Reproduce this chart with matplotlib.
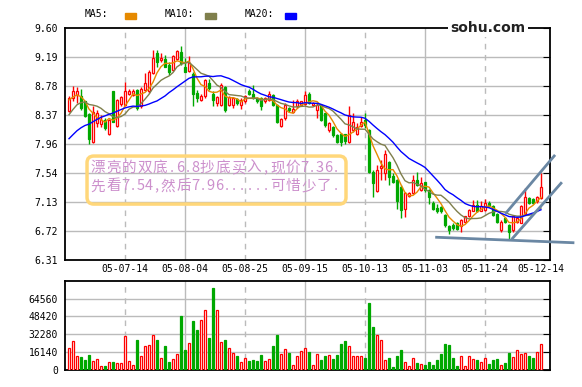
import numpy as np
import pandas as pd
import matplotlib
matplotlib.use("Agg")
import matplotlib.pyplot as plt
from matplotlib.patches import FancyBboxPatch, Rectangle

# date labels and the candle index they sit on
dates = ["05-07-14", "05-08-04", "05-08-25", "05-09-15", "05-10-13", "05-11-03", "05-11-24", "05-12-14"]
date_pos = [14, 29, 44, 59, 74, 89, 104, 118]

# daily prices
opens = [8.42, 8.60, 8.65, 8.63, 8.56, 8.38, 7.99, 8.25, 8.24, 8.30,
         8.09, 8.70, 8.21, 8.52, 8.51, 8.66, 8.65, 8.72, 8.49, 8.72,
         8.70, 8.96, 9.24, 9.14, 9.16, 9.08, 9.01, 9.16, 9.26, 9.05,
         8.99, 8.95, 8.68, 8.58, 8.63, 8.82, 8.67, 8.54, 8.51, 8.77,
         8.51, 8.51, 8.59, 8.51, 8.56, 8.71, 8.67, 8.60, 8.60, 8.56,
         8.58, 8.65, 8.51, 8.21, 8.32, 8.46, 8.41, 8.49, 8.51, 8.52,
         8.67, 8.51, 8.44, 8.51, 8.39, 8.15, 8.20, 8.08, 8.10, 8.09,
         7.99, 8.15, 8.10, 8.21, 8.30, 8.15, 7.56, 7.29, 7.61, 7.54,
         7.70, 7.50, 7.44, 7.35, 7.03, 7.22, 7.26, 7.44, 7.30, 7.41,
         7.30, 7.12, 7.05, 7.06, 6.95, 6.79, 6.81, 6.83, 6.79, 6.85,
         6.93, 7.01, 7.09, 7.01, 7.02, 7.12, 7.08, 6.96, 6.73, 6.90,
         6.81, 6.73, 6.85, 6.84, 6.96, 7.19, 7.17, 7.14, 7.19]
highs = [8.64, 8.78, 8.77, 8.73, 8.57, 8.40, 8.49, 8.44, 8.37, 8.32,
         8.31, 8.70, 8.59, 8.64, 8.83, 8.73, 8.73, 8.73, 8.77, 8.96,
         9.00, 9.29, 9.29, 9.25, 9.22, 9.12, 9.22, 9.29, 9.34, 9.18,
         9.20, 8.97, 8.72, 8.66, 8.87, 8.87, 8.70, 8.64, 8.82, 8.78,
         8.63, 8.62, 8.61, 8.60, 8.65, 8.74, 8.79, 8.62, 8.62, 8.62,
         8.70, 8.66, 8.52, 8.32, 8.53, 8.48, 8.58, 8.59, 8.57, 8.70,
         8.69, 8.55, 8.53, 8.52, 8.40, 8.26, 8.21, 8.10, 8.11, 8.10,
         8.49, 8.39, 8.25, 8.34, 8.39, 8.17, 7.58, 7.66, 7.73, 7.87,
         7.72, 7.54, 7.46, 7.37, 7.27, 7.27, 7.52, 7.56, 7.49, 7.42,
         7.31, 7.14, 7.11, 7.07, 6.96, 6.81, 6.83, 6.85, 6.89, 6.94,
         7.04, 7.16, 7.16, 7.14, 7.17, 7.14, 7.09, 6.98, 6.87, 6.92,
         6.82, 6.94, 6.92, 7.09, 7.33, 7.20, 7.19, 7.22, 7.54]
lows = [8.41, 8.56, 8.53, 8.44, 8.34, 7.96, 7.97, 8.20, 8.19, 8.15,
        8.08, 8.26, 8.19, 8.49, 8.49, 8.65, 8.63, 8.44, 8.46, 8.70,
        8.68, 8.95, 9.05, 9.12, 9.04, 8.94, 8.99, 9.14, 9.08, 8.97,
        8.97, 8.50, 8.55, 8.56, 8.60, 8.72, 8.49, 8.50, 8.49, 8.41,
        8.49, 8.46, 8.51, 8.45, 8.54, 8.65, 8.59, 8.54, 8.44, 8.53,
        8.56, 8.49, 8.25, 8.19, 8.30, 8.41, 8.40, 8.47, 8.49, 8.51,
        8.52, 8.49, 8.32, 8.28, 8.20, 8.13, 8.05, 7.97, 7.93, 7.96,
        7.97, 8.13, 8.08, 8.19, 8.18, 7.54, 7.20, 7.27, 7.44, 7.44,
        7.37, 7.40, 7.04, 6.90, 6.92, 7.20, 7.24, 7.36, 7.29, 7.28,
        7.11, 7.02, 6.98, 6.98, 6.78, 6.68, 6.74, 6.73, 6.71, 6.84,
        6.92, 7.00, 6.99, 7.00, 7.00, 7.06, 6.93, 6.83, 6.71, 6.84,
        6.60, 6.70, 6.84, 6.83, 6.95, 7.11, 7.11, 7.12, 7.17]
closes = [8.60, 8.70, 8.71, 8.46, 8.35, 8.03, 8.41, 8.40, 8.30, 8.18,
          8.30, 8.27, 8.58, 8.62, 8.71, 8.71, 8.71, 8.46, 8.73, 8.82,
          8.98, 9.17, 9.12, 9.17, 9.05, 8.98, 9.20, 9.27, 9.10, 8.98,
          9.10, 8.66, 8.60, 8.64, 8.86, 8.75, 8.58, 8.62, 8.79, 8.43,
          8.62, 8.60, 8.53, 8.58, 8.64, 8.66, 8.60, 8.56, 8.50, 8.60,
          8.67, 8.51, 8.26, 8.31, 8.51, 8.43, 8.45, 8.57, 8.56, 8.65,
          8.53, 8.53, 8.51, 8.30, 8.23, 8.25, 8.08, 7.99, 7.99, 8.00,
          8.37, 8.27, 8.20, 8.27, 8.22, 7.56, 7.40, 7.59, 7.64, 7.82,
          7.49, 7.42, 7.14, 7.02, 7.26, 7.26, 7.45, 7.37, 7.40, 7.30,
          7.20, 7.04, 7.00, 7.00, 6.81, 6.74, 6.76, 6.75, 6.88, 6.93,
          7.02, 7.09, 7.01, 7.08, 7.12, 7.08, 6.95, 6.85, 6.85, 6.85,
          6.71, 6.93, 6.90, 7.08, 7.20, 7.12, 7.12, 7.20, 7.35]
volumes = [19500, 26100, 12600, 11400, 9000, 13500, 8100, 9900, 3600, 3600,
           7200, 7200, 6300, 6000, 30600, 8100, 4500, 27000, 12600, 21600,
           22500, 31500, 27000, 10800, 21600, 7500, 9900, 14400, 48600, 18000,
           24300, 44100, 36000, 45000, 54000, 28800, 73800, 54000, 25200, 27000,
           19800, 15000, 12600, 7200, 10800, 8400, 9000, 8400, 13500, 8100,
           9900, 21600, 31500, 14400, 18600, 15300, 4500, 12600, 17100, 19800,
           16200, 4500, 14400, 9000, 12600, 13500, 9900, 13500, 23400, 26100,
           21600, 12600, 12600, 12600, 10800, 60300, 38700, 31500, 27000, 9000,
           10800, 2700, 12600, 18000, 7200, 3600, 10800, 6300, 5400, 4500,
           7200, 4500, 9000, 14400, 23400, 22500, 10800, 3600, 12600, 3600,
           12600, 9900, 9000, 7200, 10800, 5400, 9000, 9900, 4500, 6300,
           15300, 11700, 18000, 14400, 15300, 12600, 10800, 16200, 23400]
# closes before the first visible day, needed for the moving averages
pre_close = [7.55, 7.60, 7.62, 7.70, 7.65, 7.72, 7.75, 7.70, 7.78, 7.83,
             7.95, 8.05, 8.15, 8.25, 8.40, 8.50, 8.55, 8.60, 8.65]

# hand drawn trend lines: (index, price) end points
support_x = [91.9, 126.0]
support_y = [6.632, 6.555]
upper_x = [109.3, 121.3]
upper_y = [6.98, 7.785]
lower_x = [110.9, 123.0]
lower_y = [6.618, 7.398]

note = ["漂亮的双底.6.8抄底买入,现价7.36.", "先看7.54,然后7.96......可惜少了."]

price_ticks = np.linspace(6.31, 9.60, 9)
vol_ticks = [0, 16140, 32280, 48420, 64560]

# moving averages
all_close = pd.Series(pre_close + closes)
n0 = len(pre_close)
ma5 = all_close.rolling(5).mean().values[n0:]
ma10 = all_close.rolling(10).mean().values[n0:]
ma20 = all_close.rolling(20).mean().values[n0:]

RED = "#FF0000"
GREEN = "#00A800"
GRID = "#BBBBBB"
MA_COLORS = ["#E68A00", "#7F7F4C", "#0000FF"]
MONO = "DejaVu Sans Mono"
CJK = ["Noto Sans CJK SC", "DejaVu Sans"]

x = np.arange(len(closes))
o = np.array(opens)
c = np.array(closes)
up = c >= o
edge = np.where(up, RED, GREEN)
face = np.where(up, "white", GREEN)

fig = plt.figure(figsize=(5.82, 3.87), dpi=100)
ax = fig.add_axes([0.1117, 0.3282, 0.8333, 0.5995])
axv = fig.add_axes([0.1117, 0.0439, 0.8333, 0.2307])

for a in (ax, axv):
    a.set_xlim(-1, 120.25)
    for i, p in enumerate(date_pos[:-1]):
        a.axvline(p, color=GRID, lw=1, ls="-" if i % 2 else (0, (4, 4)), zorder=1)
    for s in a.spines.values():
        s.set_linewidth(1.3)
    a.tick_params(axis="y", left=False, right=True, direction="in", length=5,
                  labelsize=7, pad=5)
    a.tick_params(axis="x", length=0)

# candles
ax.vlines(x, lows, highs, colors=edge, lw=1, zorder=3)
ax.bar(x, np.maximum(np.abs(c - o), 0.008), bottom=np.minimum(o, c), width=0.62,
       color=face, edgecolor=edge, lw=0.9, zorder=4)
for ma, col in zip([ma5, ma10, ma20], MA_COLORS):
    ax.plot(x, ma, color=col, lw=1, zorder=5)

ax.set_ylim(6.31, 9.60)
ax.set_yticks(price_ticks, [f"{v:.2f}" for v in price_ticks], family=MONO)
for v in price_ticks[1:-1]:
    ax.axhline(v, color=GRID, lw=1, zorder=1)
ax.set_xticks(date_pos, dates, family=MONO, fontsize=7)
ax.tick_params(axis="x", pad=3)

# trend lines
for tx, ty in [(support_x, support_y), (upper_x, upper_y), (lower_x, lower_y)]:
    ax.plot(tx, ty, color="#6A87A3", lw=2, zorder=6, clip_on=False)

# note box
ax.add_patch(FancyBboxPatch((0.0454, 0.241), 0.534, 0.207, transform=ax.transAxes,
                            boxstyle="round,pad=0,rounding_size=0.014", mutation_aspect=2.09,
                            fc="none", ec="#FFD77A", lw=2.5, zorder=7))
# the original uses a fixed-cell font: wide cells for CJK, half cells for ASCII
ax_w = 485.0
cell = 15.6
for i, line in enumerate(note):
    cur = 25.0
    for ch in line:
        w = cell if ord(ch) > 0x2E80 else cell / 2
        ax.text((cur + w / 2) / ax_w, 0.396 - i * 0.078, ch, transform=ax.transAxes,
                ha="center", va="center", color="#CC8FCC", fontsize=10.5,
                family=CJK, zorder=8)
        cur += w

# logo on the top border
ax.text(0.872, 1.0, "sohu.com", transform=ax.transAxes, ha="center", va="center",
        fontsize=10, fontweight="bold", color="#222222",
        bbox=dict(fc="white", ec="none", pad=1.5), zorder=9, clip_on=False)

# volume
axv.bar(x, volumes, width=0.62, color=face, edgecolor=edge, lw=0.9, zorder=3)
axv.set_ylim(0, 80700)
axv.set_yticks(vol_ticks, [str(v) for v in vol_ticks], family=MONO)
for v in vol_ticks[1:]:
    axv.axhline(v, color=GRID, lw=1, zorder=1)
axv.set_xticks([])

# legend row on top
legend_txt = ["MA5:", "MA10:", "MA20:"]
for i, (t, col) in enumerate(zip(legend_txt, MA_COLORS)):
    fx = 0.146 + i * 0.1375
    fig.text(fx, 0.9638, t, family=MONO, fontsize=7, ha="left", va="center")
    fig.patches.append(Rectangle((fx + 0.0688, 0.952), 0.019, 0.0135, transform=fig.transFigure,
                                 color=col, figure=fig))

fig.savefig("out.png", dpi=100)
